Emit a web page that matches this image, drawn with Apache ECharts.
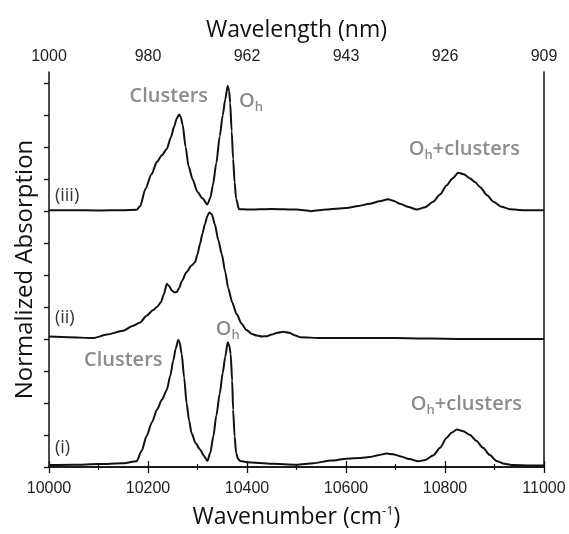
<!DOCTYPE html>
<html>
<head>
<meta charset="utf-8">
<script src="https://cdn.jsdelivr.net/npm/echarts@6/dist/echarts.min.js"></script>
<style>
  html, body { margin: 0; padding: 0; background: #fff; }
  #chart { width: 569px; height: 534px; }
</style>
</head>
<body>
<div id="chart"></div>
<script>
// axis ticks
const xTicks = [10000, 10200, 10400, 10600, 10800, 11000];
const topTickLabels = ['1000', '980', '962', '943', '926', '909'];
const yTicks = [0, 1, 2, 3, 4, 5, 6, 7, 8, 9, 10, 11, 12];

// vertical offsets of the three stacked spectra: (i), (ii), (iii)
const traceNames = ['(i)', '(ii)', '(iii)'];
const traceOffsets = [0, 4, 8];

// spectrum (i)
const wnI = [10000, 10050, 10100, 10150, 10177, 10187, 10197, 10208, 10218, 10228, 10238, 10245, 10251, 10256, 10261, 10264,
  10268, 10273, 10278, 10283, 10288, 10296, 10305, 10313, 10320, 10326, 10332, 10338, 10345, 10351, 10356, 10361,
  10364, 10367, 10370, 10372, 10375, 10378, 10382, 10386, 10400, 10450, 10500, 10534, 10570, 10601, 10630, 10648,
  10665, 10682, 10695, 10709, 10728, 10746, 10760, 10776, 10790, 10803, 10814, 10824, 10837, 10850, 10863, 10877,
  10890, 10904, 10920, 10938, 10970, 11000];
const absI = [0.06, 0.07, 0.09, 0.12, 0.18, 0.5, 0.96, 1.4, 1.79, 2.1, 2.41, 2.85, 3.33, 3.7, 3.97, 3.9,
  3.54, 2.8, 1.99, 1.45, 1.06, 0.75, 0.55, 0.35, 0.19, 0.45, 0.96, 1.6, 2.3, 2.95, 3.44, 3.9,
  3.8, 3.54, 2.7, 1.79, 0.95, 0.44, 0.25, 0.19, 0.15, 0.1, 0.07, 0.12, 0.2, 0.26, 0.28, 0.31,
  0.37, 0.42, 0.4, 0.34, 0.25, 0.18, 0.22, 0.36, 0.6, 0.91, 1.08, 1.17, 1.12, 1.01, 0.82, 0.6,
  0.38, 0.19, 0.1, 0.06, 0.05, 0.05];

// spectrum (ii)
const wnII = [10000, 10040, 10089, 10117, 10150, 10170, 10184, 10197, 10210, 10218, 10226, 10232, 10238, 10243, 10248, 10253,
  10258, 10263, 10268, 10278, 10288, 10295, 10300, 10305, 10310, 10315, 10320, 10324, 10329, 10335, 10342, 10349,
  10356, 10362, 10370, 10379, 10389, 10399, 10410, 10420, 10430, 10440, 10450, 10462, 10473, 10485, 10496, 10507,
  10550, 10600, 10650, 10700, 10750, 10800, 10850, 10900, 10950, 11000];
const absII = [0.08, 0.06, 0.03, 0.14, 0.26, 0.42, 0.52, 0.73, 0.9, 1.0, 1.15, 1.4, 1.73, 1.65, 1.52, 1.46,
  1.47, 1.6, 1.8, 2.1, 2.3, 2.4, 2.65, 2.97, 3.3, 3.59, 3.85, 3.96, 3.9, 3.59, 3.1, 2.66,
  2.1, 1.6, 1.15, 0.78, 0.48, 0.28, 0.16, 0.11, 0.08, 0.09, 0.14, 0.2, 0.23, 0.2, 0.12, 0.06,
  0.03, 0.03, 0.03, 0.03, 0.02, 0.01, 0.0, 0.0, 0.0, 0.0];

// spectrum (iii)
const wnIII = [10000, 10050, 10100, 10150, 10177, 10184, 10195, 10207, 10218, 10228, 10238, 10246, 10253, 10258, 10263, 10266,
  10270, 10276, 10282, 10290, 10300, 10310, 10320, 10326, 10331, 10338, 10345, 10351, 10356, 10361, 10364, 10366,
  10369, 10372, 10375, 10378, 10384, 10400, 10450, 10500, 10530, 10560, 10601, 10625, 10648, 10668, 10685, 10697,
  10709, 10726, 10743, 10760, 10776, 10790, 10803, 10815, 10827, 10838, 10850, 10861, 10871, 10885, 10898, 10914,
  10931, 10960, 11000];
const absIII = [0.03, 0.03, 0.02, 0.03, 0.04, 0.15, 0.7, 1.15, 1.54, 1.75, 1.94, 2.3, 2.65, 2.9, 3.02, 2.95,
  2.7, 2.0, 1.4, 1.0, 0.6, 0.4, 0.21, 0.42, 0.8, 1.5, 2.35, 3.0, 3.49, 3.92, 3.75, 3.39,
  2.5, 1.63, 0.9, 0.39, 0.06, 0.05, 0.07, 0.05, 0.0, 0.05, 0.1, 0.16, 0.23, 0.31, 0.37, 0.32,
  0.23, 0.13, 0.05, 0.12, 0.29, 0.52, 0.8, 1.02, 1.2, 1.15, 1.03, 0.9, 0.75, 0.5, 0.29, 0.14,
  0.06, 0.03, 0.03];

// peak annotations: [text, wavenumber, value, align]
const annotations = [
  ['Clusters', 10242, 11.6, 'center'],
  ['Oh', 10384, 11.42, 'left'],
  ['Oh+clusters', 10727, 9.94, 'left'],
  ['Clusters', 10150, 3.34, 'center'],
  ['Oh', 10337, 4.31, 'left'],
  ['Oh+clusters', 10731, 1.95, 'left']
];
const traceLabelPos = [[10012, 0.6], [10012, 4.67], [10012, 8.49]];

const wns = [wnI, wnII, wnIII];
const abss = [absI, absII, absIII];

const chart = echarts.init(document.getElementById('chart'));

const titleFont = 'Open Sans';
const yMax = 12.35;

const series = wns.map((wn, k) => ({
  name: traceNames[k],
  type: 'line',
  data: wn.map((x, i) => [x, abss[k][i] + traceOffsets[k]]),
  showSymbol: false,
  smooth: 0.25,
  smoothMonotone: 'x',
  lineStyle: { color: '#111', width: 2 },
  silent: true
}));

const option = {
  animation: false,
  backgroundColor: '#fff',
  grid: { left: 49, right: 25, top: 72, bottom: 63 },
  xAxis: [
    {
      type: 'value',
      position: 'bottom',
      min: 10000,
      max: 11000,
      interval: 200,
      name: 'Wavenumber (cm{sup|-1})',
      nameLocation: 'middle',
      nameGap: 38,
      nameTextStyle: {
        fontFamily: titleFont, fontSize: 23, color: '#111',
        rich: { sup: { fontFamily: titleFont, fontSize: 13, color: '#111', verticalAlign: 'top', padding: [0, 0, 12, 0] } }
      },
      axisLine: { lineStyle: { color: '#111', width: 1.5 } },
      axisTick: { length: 6, lineStyle: { color: '#111', width: 1.3 } },
      minorTick: { show: true, splitNumber: 2, length: 3, lineStyle: { color: '#111', width: 1.2 } },
      axisLabel: {
        fontFamily: 'Liberation Sans', fontSize: 16, color: '#222', margin: 14,
        formatter: v => String(v)
      },
      splitLine: { show: false }
    },
    {
      type: 'value',
      position: 'top',
      min: 10000,
      max: 11000,
      interval: 200,
      name: 'Wavelength (nm)',
      nameLocation: 'middle',
      nameGap: 30,
      nameTextStyle: { fontFamily: titleFont, fontSize: 23, color: '#111' },
      axisLine: { lineStyle: { color: '#111', width: 1.5 } },
      axisTick: { length: 6, lineStyle: { color: '#111', width: 1.3 } },
      minorTick: { show: true, splitNumber: 2, length: 3, lineStyle: { color: '#111', width: 1.2 } },
      axisLabel: {
        fontFamily: 'Liberation Sans', fontSize: 16, color: '#222', margin: 7,
        formatter: v => topTickLabels[xTicks.indexOf(v)]
      },
      splitLine: { show: false }
    }
  ],
  yAxis: [
    {
      type: 'value',
      position: 'left',
      min: 0,
      max: yMax,
      name: 'Normalized Absorption',
      nameLocation: 'middle',
      nameGap: 12,
      nameTextStyle: { fontFamily: titleFont, fontSize: 24, color: '#111' },
      axisLine: { show: true, lineStyle: { color: '#111', width: 1.5 } },
      axisTick: { show: true, length: 5, customValues: yTicks, lineStyle: { color: '#111', width: 1.3 } },
      axisLabel: { show: false },
      splitLine: { show: false }
    },
    {
      type: 'value',
      position: 'right',
      min: 0,
      max: yMax,
      axisLine: { show: true, lineStyle: { color: '#111', width: 1.5 } },
      axisTick: { show: false },
      axisLabel: { show: false },
      splitLine: { show: false }
    }
  ],
  series: series
};

chart.setOption(option);

// text overlays placed through the axes
const graphics = [];
const annStyle = { fontFamily: titleFont, fontSize: 20, fontWeight: 600, fill: '#8c8c8c' };
annotations.forEach(([txt, x, y, align]) => {
  const p = chart.convertToPixel({ xAxisIndex: 0, yAxisIndex: 0 }, [x, y]);
  let text = txt;
  if (txt.startsWith('Oh')) text = '{o|O}{h|h}{o|' + txt.slice(2) + '}';
  graphics.push({
    type: 'text',
    x: p[0], y: p[1],
    style: Object.assign({}, annStyle, {
      text: text,
      align: align,
      verticalAlign: 'middle',
      rich: {
        o: { fontFamily: titleFont, fontSize: 20, fontWeight: 600, fill: '#8c8c8c', lineHeight: 26 },
        h: { fontFamily: titleFont, fontSize: 13, fontWeight: 600, fill: '#8c8c8c', lineHeight: 26, padding: [12, 0, 0, 0] }
      }
    }),
    silent: true
  });
});
traceLabelPos.forEach(([x, y], k) => {
  const p = chart.convertToPixel({ xAxisIndex: 0, yAxisIndex: 0 }, [x, y]);
  graphics.push({
    type: 'text',
    x: p[0], y: p[1],
    style: { text: traceNames[k], fontFamily: titleFont, fontSize: 18, fill: '#333', align: 'left', verticalAlign: 'middle' },
    silent: true
  });
});
chart.setOption({ graphic: graphics });
</script>
</body>
</html>
